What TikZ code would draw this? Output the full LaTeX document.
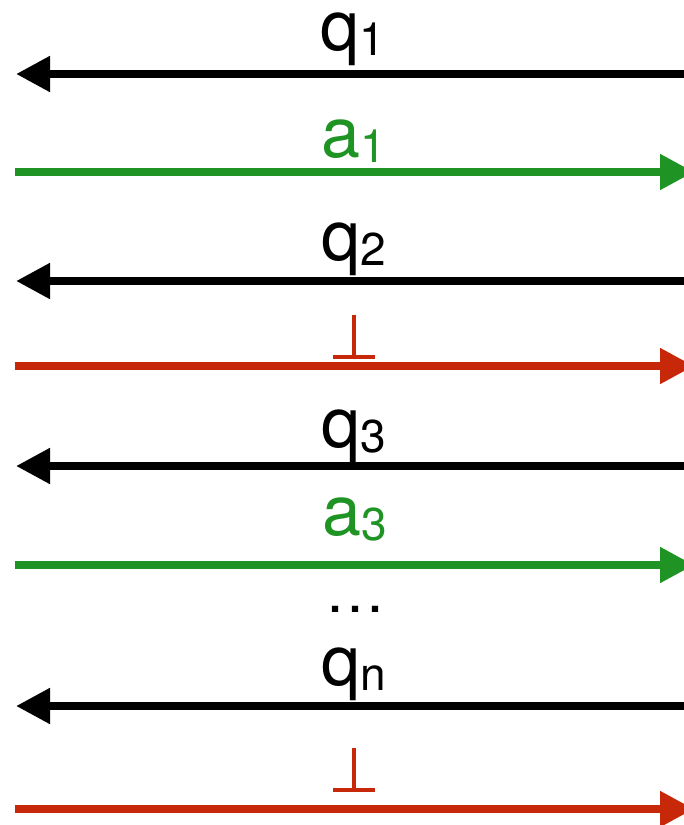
\documentclass[tikz,border=0pt]{standalone}
\usepackage{fontspec}
\setmainfont{TeX Gyre Heros}
\usetikzlibrary{arrows.meta}
\definecolor{qgreen}{RGB}{31,148,36}
\definecolor{qred}{RGB}{199,40,10}
\newcommand{\lbl}[2]{\fontsize{70}{70}\selectfont #1\raisebox{-5pt}{\fontsize{46}{46}\selectfont #2}}
\tikzset{
  msg/.style={line width=8pt},
  tipq/.style={msg,black,{Triangle[length=34pt,width=34pt]}-},
  tipa/.style={msg,-{Triangle[length=34pt,width=34pt]}},
  lab/.style={anchor=base,inner sep=0pt,outer sep=0pt},
}
\begin{document}
\begin{tikzpicture}[x=1pt,y=-1pt]
\useasboundingbox (0,0) rectangle (684,825);
\clip (0,0) rectangle (684,825);
% coordinates
\foreach \n/\y in {1/74,2/281,3/466,4/706}{
  \coordinate (ql\n) at (16,\y);
  \coordinate (qr\n) at (690,\y);
}
\foreach \n/\y in {1/172,2/366,3/565,4/809}{
  \coordinate (al\n) at (15,\y);
  \coordinate (ar\n) at (694,\y);
}
% connectors
\draw[tipq] (ql1) -- (qr1);
\draw[tipa,qgreen] (al1) -- (ar1);
\draw[tipq] (ql2) -- (qr2);
\draw[tipa,qred] (al2) -- (ar2);
\draw[tipq] (ql3) -- (qr3);
\draw[tipa,qgreen] (al3) -- (ar3);
\draw[tipq] (ql4) -- (qr4);
\draw[tipa,qred] (al4) -- (ar4);
% labels
\node[lab] (tq1) at (353,50) {\lbl{q}{1}};
\node[lab,text=qgreen] (ta1) at (354,157) {\lbl{a}{1}};
\node[lab] (tq2) at (354,260) {\lbl{q}{2}};
\node[lab] (tq3) at (354,447) {\lbl{q}{3}};
\node[lab,text=qgreen] (ta3) at (355,535) {\lbl{a}{3}};
\node[lab] (tqn) at (354,685) {\lbl{q}{n}};
\node[lab] (dots) at (355,612) {\fontsize{60}{60}\selectfont\dots};
% bottom symbols
\foreach \n/\y in {1/357,2/790}{
  \coordinate (bl\n) at (333,\y);
  \coordinate (br\n) at (375,\y);
  \coordinate (bt\n) at (354,\y-42);
  \coordinate (bm\n) at (354,\y);
  \draw[qred,line width=3.5pt] (bl\n) -- (br\n) (bm\n) -- (bt\n);
}
\end{tikzpicture}
\end{document}
